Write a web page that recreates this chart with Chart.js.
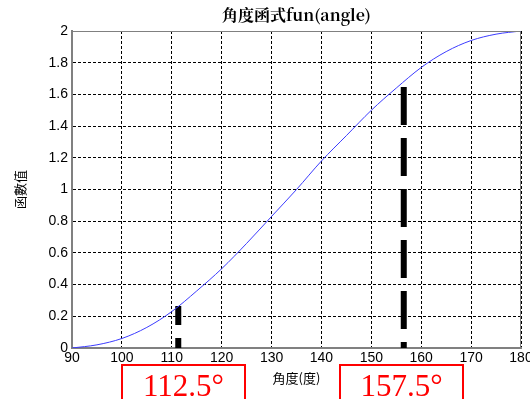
<!DOCTYPE html>
<html>
<head>
<meta charset="utf-8">
<script src="https://cdn.jsdelivr.net/npm/chart.js@4"></script>
<style>
  html, body { margin: 0; padding: 0; background: #fff; }
  #wrap { position: relative; width: 530px; height: 399px; overflow: hidden; }
  .tag {
    position: absolute;
    top: 364px;
    width: 121px;
    height: 60px;
    border: 2px solid #ff0000;
    color: #ff0000;
    font-family: 'Liberation Serif', 'Times New Roman', serif;
    font-size: 31px;
    line-height: 31px;
    text-align: center;
    box-sizing: content-box;
  }
  .tag span { position: relative; top: 4px; }
</style>
</head>
<body>
<div id="wrap">
  <canvas id="c" width="530" height="399"></canvas>
  <div class="tag" id="tag0" style="left:121px"><span></span></div>
  <div class="tag" id="tag1" style="left:339px"><span></span></div>
</div>
<script>
// curve, every 5 degrees
const angles    = [90, 95, 100, 105, 110, 115, 120, 125, 130, 135, 140, 145, 150, 155, 160, 165, 170, 175, 180];
const funValues = [0, 0.02, 0.06, 0.13, 0.23, 0.36, 0.50, 0.66, 0.83, 1.00, 1.18, 1.34, 1.50, 1.64, 1.77, 1.87, 1.94, 1.98, 2.00];

// the two thick dashed markers
const markerAngles = [111.3, 156.5];
const markerTops   = [0.265, 1.647];
const markerLabels = ['112.5°', '157.5°'];

const xTickMin = 90, xTickMax = 180, xTickStep = 10;
const yTickMin = 0,  yTickMax = 2,   yTickStep = 0.2;

const MARKER_DASH = [[19, 13], [38, 13]];

markerLabels.forEach((t, i) => {
  document.querySelector('#tag' + i + ' span').textContent = t;
});

const tickFont = { family: "'Liberation Sans', Arial, sans-serif", size: 14 };
const cjkFont  = { family: "'Noto Sans CJK TC', sans-serif", size: 13 };

// frame on top and right like the original axes box
const frameBox = {
  id: 'frameBox',
  afterDatasetsDraw(chart) {
    const { ctx, chartArea: a } = chart;
    ctx.save();
    ctx.strokeStyle = '#808080';
    ctx.lineWidth = 1;
    ctx.beginPath();
    ctx.moveTo(a.left, a.top + 0.5);
    ctx.lineTo(a.right - 0.5, a.top + 0.5);
    ctx.lineTo(a.right - 0.5, a.bottom);
    ctx.stroke();
    ctx.restore();
  }
};

// title centred over the plot area, not the canvas
const plotTitle = {
  id: 'plotTitle',
  afterDraw(chart) {
    const { ctx, chartArea: a } = chart;
    ctx.save();
    ctx.fillStyle = '#000';
    ctx.font = "bold 16px 'Noto Serif CJK TC', 'Noto Sans CJK TC', serif";
    ctx.textAlign = 'center';
    ctx.textBaseline = 'middle';
    ctx.fillText('角度函式fun(angle)', (a.left + a.right) / 2, 15);
    ctx.restore();
  }
};

const datasets = [{
  data: angles.map((a, i) => ({ x: a, y: funValues[i] })),
  borderColor: '#3c3cff',
  borderWidth: 1,
  pointRadius: 0,
  cubicInterpolationMode: 'monotone',
  fill: false,
}];

markerAngles.forEach((a, i) => {
  datasets.push({
    data: [{ x: a, y: markerTops[i] }, { x: a, y: 0 }],
    borderColor: '#000',
    borderWidth: 6,
    borderDash: MARKER_DASH[i],
    borderCapStyle: 'butt',
    pointRadius: 0,
    fill: false,
  });
});

new Chart(document.getElementById('c').getContext('2d'), {
  type: 'line',
  data: { datasets },
  options: {
    responsive: false,
    animation: false,
    layout: { padding: { top: 31, right: 9, bottom: 0, left: 0 } },
    plugins: {
      legend: { display: false },
      tooltip: { enabled: false },
    },
    scales: {
      x: {
        type: 'linear',
        min: xTickMin,
        max: xTickMax,
        ticks: { stepSize: xTickStep, color: '#000', font: tickFont, padding: 2, maxRotation: 0 },
        grid: { color: '#000', drawTicks: false },
        border: { color: '#808080', width: 2, dash: [3, 2] },
        title: { display: true, text: '角度(度)', color: '#000', font: cjkFont, padding: { top: 0, bottom: 13 } },
        afterFit: s => { s.height = 51; s.paddingLeft = 0; s.paddingRight = 0; },
      },
      y: {
        min: yTickMin,
        max: yTickMax,
        ticks: {
          stepSize: yTickStep, color: '#000', font: tickFont, padding: 4,
          callback: v => String(Number(v.toFixed(1))),
        },
        grid: { color: '#000', drawTicks: false },
        border: { color: '#808080', width: 2, dash: [3, 2] },
        title: { display: true, text: '函數值', color: '#000', font: cjkFont, padding: { top: 12, bottom: 0 } },
        afterFit: s => { s.width = 72; },
      }
    }
  },
  plugins: [frameBox, plotTitle]
});
</script>
</body>
</html>
